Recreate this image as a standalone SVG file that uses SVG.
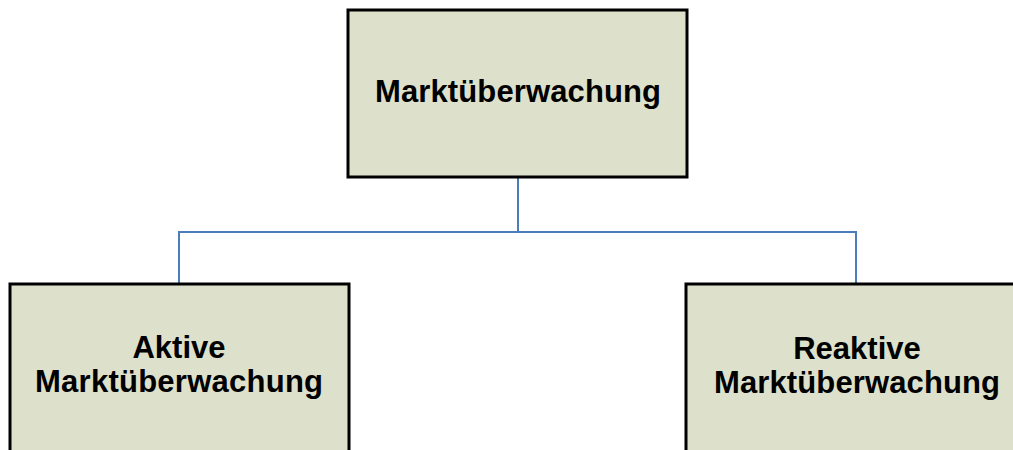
<svg xmlns="http://www.w3.org/2000/svg" width="1013" height="450" viewBox="0 0 1013 450">
<style>
.box{fill:#dde0cb;stroke:#000;stroke-width:3}
.lbl{font-family:"Liberation Sans",Arial,sans-serif;font-weight:bold;font-size:31px;fill:#000;text-anchor:middle}
.conn{fill:none;stroke:#4a7ebb;stroke-width:2}
</style>
<rect width="1013" height="450" fill="#fff"/>
<g id="connectors">
<path class="conn" d="M518 177 V232 M179 284 V232 H856 V284"/>
</g>
<g id="node-root">
<rect class="box" x="348" y="10" width="339" height="167"/>
<text class="lbl" x="518" y="102" textLength="286" lengthAdjust="spacing">Marktüberwachung</text>
</g>
<g id="node-aktive">
<rect class="box" x="10" y="284" width="339" height="180"/>
<text class="lbl" x="179" y="358">Aktive</text>
<text class="lbl" x="179" y="392" textLength="288" lengthAdjust="spacing">Marktüberwachung</text>
</g>
<g id="node-reaktive">
<rect class="box" x="686" y="284" width="340" height="180"/>
<text class="lbl" x="857" y="359">Reaktive</text>
<text class="lbl" x="857" y="393" textLength="286" lengthAdjust="spacing">Marktüberwachung</text>
</g>
</svg>
